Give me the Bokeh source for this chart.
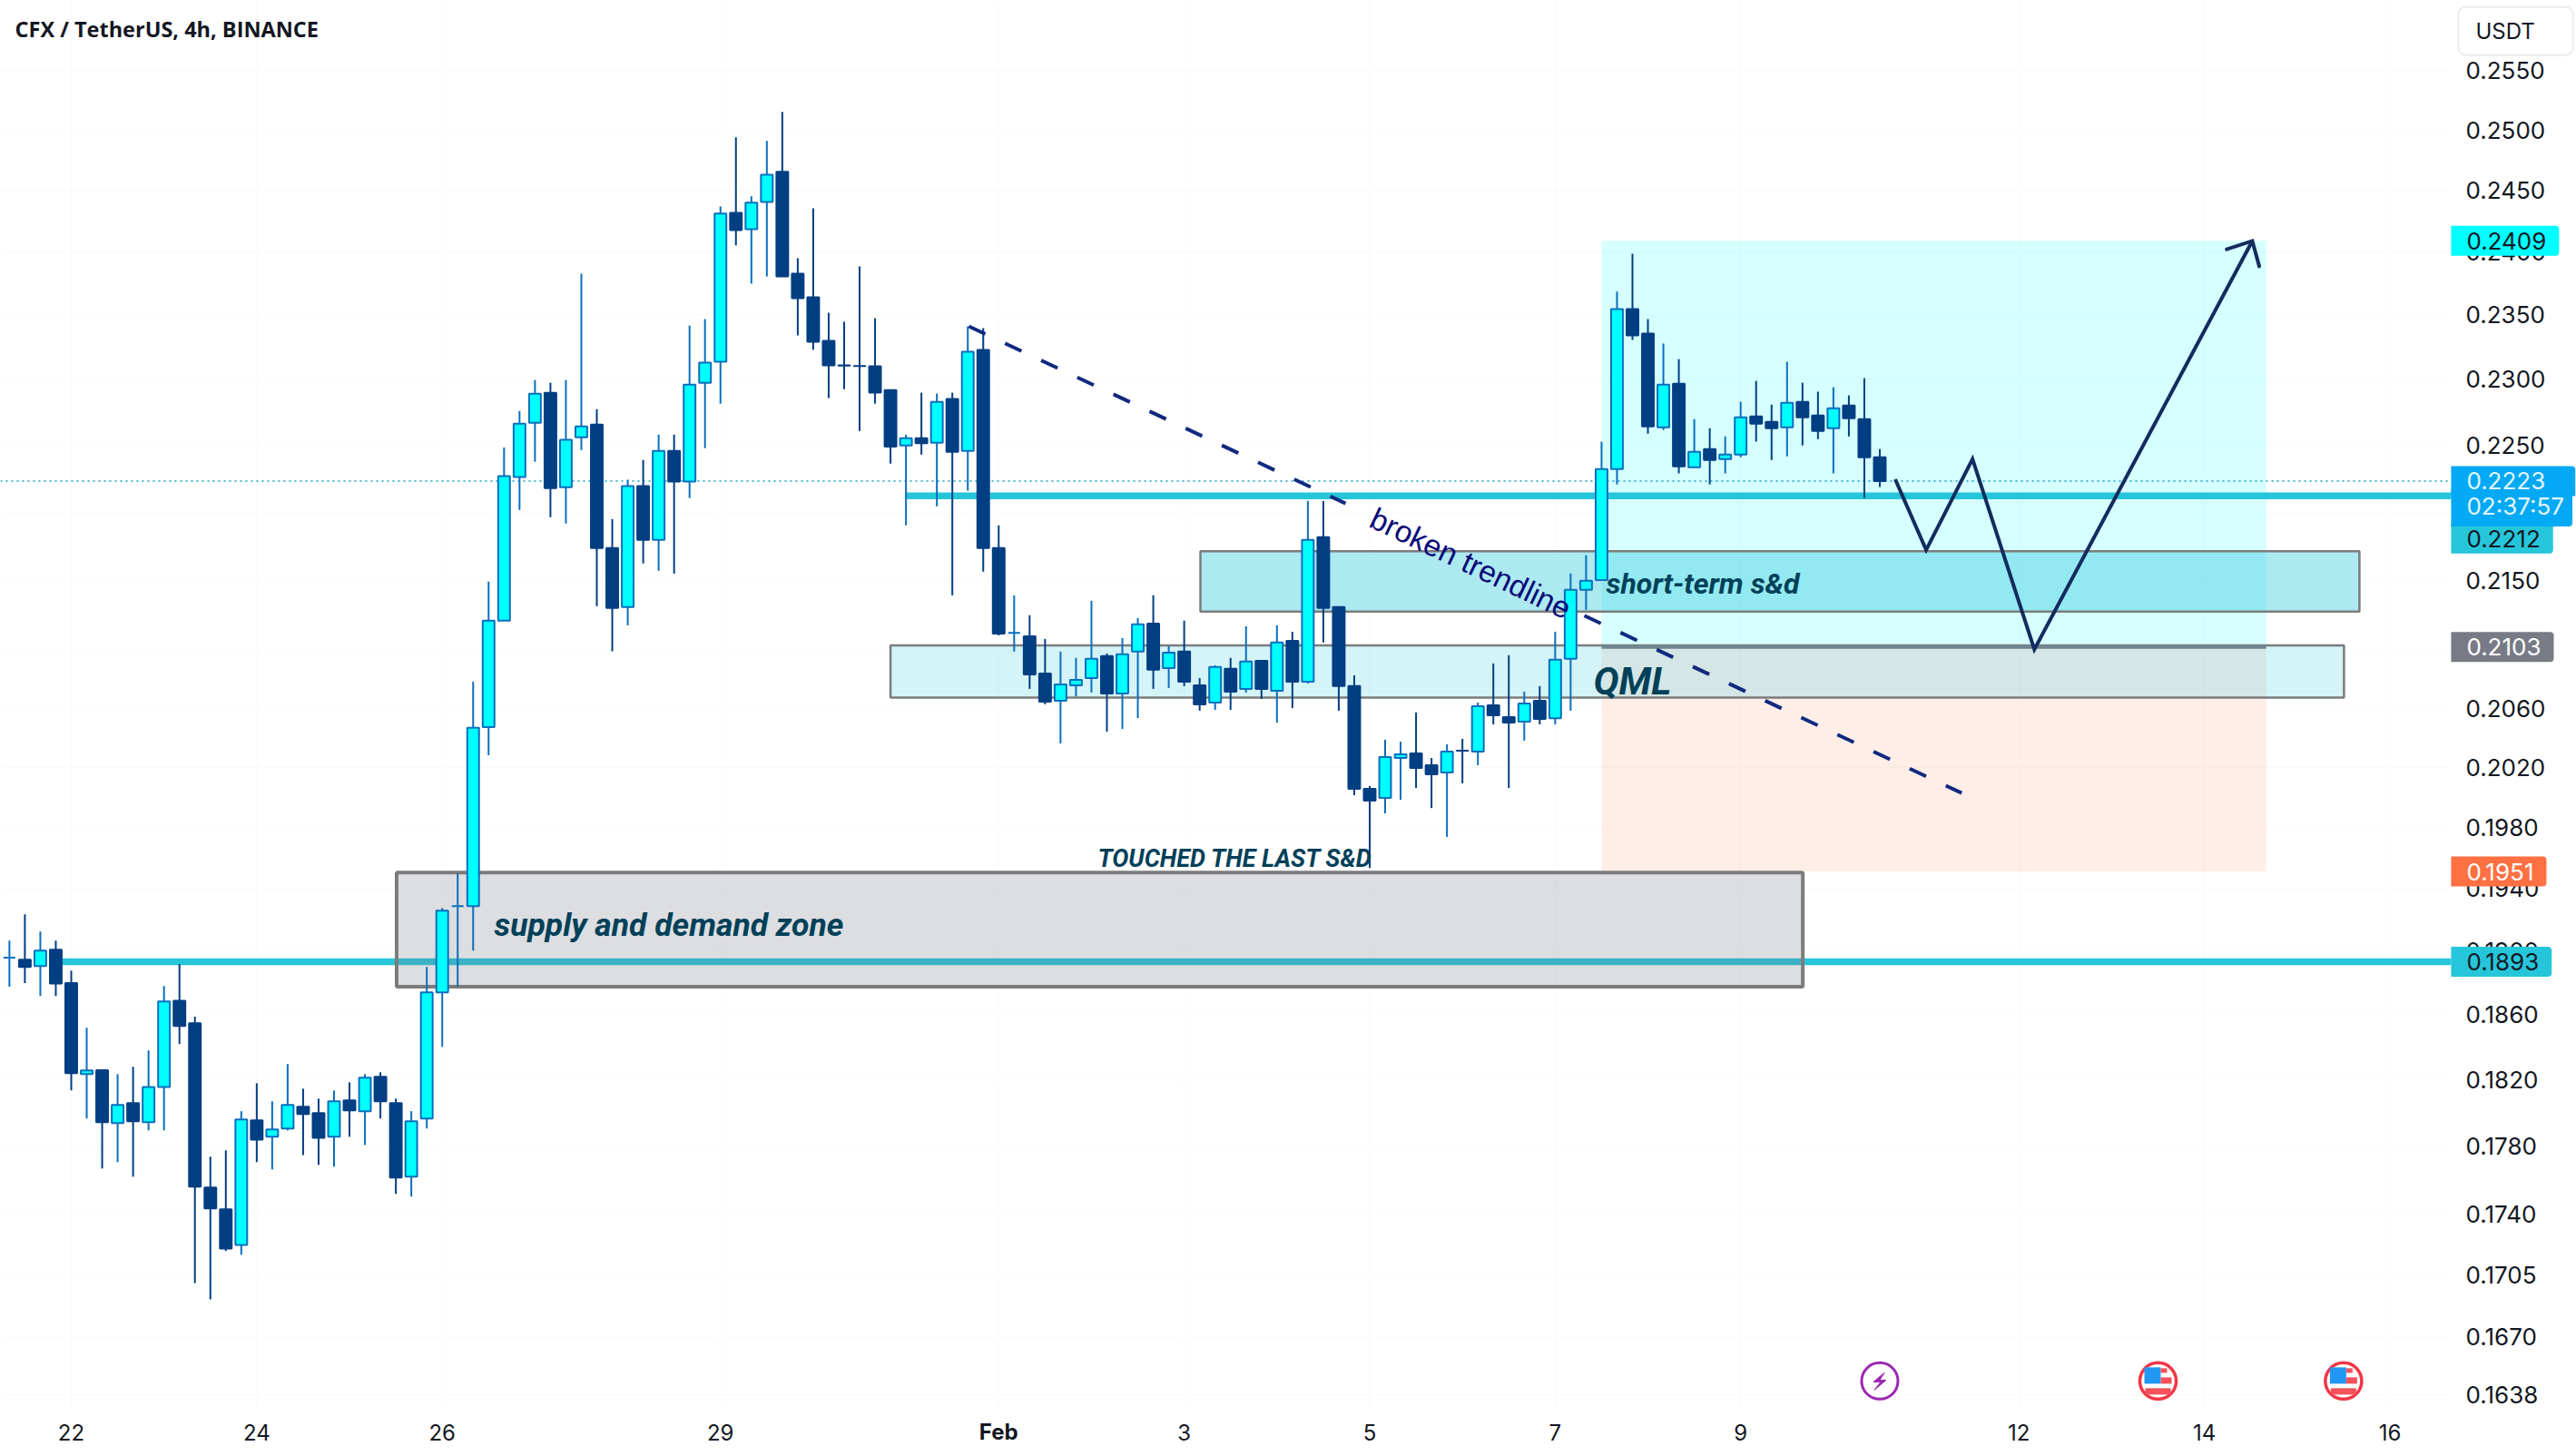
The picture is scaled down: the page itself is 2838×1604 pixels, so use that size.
from math import exp
from bokeh.plotting import figure
from bokeh.models import Range1d, FixedTicker, NumeralTickFormatter, Label, ColumnDataSource
from bokeh.core.properties import value
from bokeh.embed import file_html
from bokeh.resources import INLINE

# ---- price data: 4h candles, index 0 = 22 Jan 00:00 ----
FIRST_INDEX = -4
OPEN = [.18956,.18943,.18903,.19006,.18795,.18232,.18255,.17935,.18056,.17941,
        .18154,.18685,.18544,.17553,.17426,.17220,.17952,.17854,.17903,.18034,
        .17995,.17854,.18072,.18007,.18215,.18056,.17617,.17963,.18737,.19285,
        .19285,.20474,.21216,.22260,.22668,.22896,.22185,.22557,.22654,.21737,
        .21313,.22192,.21797,.22455,.22226,.22973,.23134,.24316,.24183,.24405,
        .24651,.23826,.23638,.23296,.23106,.23102,.23099,.22917,.22496,.22551,
        .22516,.22848,.22455,.23227,.21737,.21129,.21106,.20845,.20656,.20763,
        .20813,.20966,.20706,.20998,.21196,.20883,.20998,.20763,.20643,.20877,
        .20738,.20934,.20725,.21074,.20788,.21817,.21313,.20757,.20056,.19995,
        .20264,.20295,.20215,.20166,.20314,.20308,.20624,.20543,.20512,.20656,
        .20536,.20947,.21436,.21507,.22319,.23546,.23353,.22633,.22966,.22333,
        .22469,.22394,.22428,.22716,.22675,.22633,.22827,.22723,.22626,.22799,
        .22695,.22408]
HIGH = [.19064,.19232,.19122,.19064,.18874,.18516,.18255,.18232,.18277,.18377,
        .18777,.18915,.18585,.17735,.17773,.18007,.18176,.18067,.18293,.18143,
        .18083,.18132,.18182,.18232,.18243,.18083,.18007,.18897,.19273,.19497,
        .20788,.21495,.22481,.22757,.22994,.22973,.22994,.23826,.22771,.21949,
        .22240,.22387,.22578,.22578,.23417,.23467,.24368,.24937,.24450,.24907,
        .25150,.23950,.24353,.23517,.23446,.23884,.23474,.22917,.22578,.22897,
        .22890,.22897,.23410,.23396,.21903,.21397,.21255,.21087,.20998,.20954,
        .21358,.20985,.21093,.21235,.21397,.21036,.21216,.20813,.20902,.20954,
        .21177,.20934,.21183,.21138,.22083,.22083,.21319,.20832,.20075,.20388,
        .20375,.20575,.20264,.20357,.20394,.20643,.20915,.20973,.20719,.20757,
        .21138,.21553,.21685,.22524,.23684,.23986,.23467,.23276,.23155,.22695,
        .22626,.22564,.22827,.22987,.22806,.23134,.22973,.22904,.22939,.22876,
        .23008,.22469]
LOW = [.18772,.18795,.18714,.18714,.18132,.17963,.17666,.17703,.17617,.17892,
       .17892,.18416,.17001,.16909,.17184,.17163,.17703,.17660,.17892,.17745,
       .17687,.17676,.17854,.17805,.17963,.17516,.17500,.17903,.18399,.18772,
       .19000,.20283,.21216,.22016,.22374,.21963,.21917,.22462,.21319,.21000,
       .21183,.21626,.21573,.21553,.22104,.22476,.22813,.24052,.23747,.23804,
       .23804,.23339,.23227,.22855,.22924,.22605,.22813,.22360,.21903,.22428,
       .22043,.21397,.22158,.21567,.21112,.20998,.20738,.20631,.20363,.20687,
       .20712,.20443,.20462,.20536,.20738,.20744,.20757,.20587,.20593,.20593,
       .20712,.20668,.20505,.20605,.20775,.21062,.20587,.20013,.19532,.19892,
       .19983,.20062,.19928,.19736,.20093,.20215,.20493,.20062,.20382,.20493,
       .20493,.20587,.21293,.21507,.22205,.23304,.22585,.22612,.22287,.22333,
       .22205,.22287,.22408,.22525,.22387,.22414,.22496,.22544,.22287,.22564,
       .22104,.22185]
CLOSE = [.18956,.18897,.19000,.18792,.18238,.18254,.17941,.18045,.17946,.18154,
         .18680,.18528,.17558,.17431,.17199,.17957,.17837,.17897,.18045,.17990,
         .17848,.18067,.18012,.18210,.18067,.17612,.17946,.18737,.19255,.19285,
         .20470,.21216,.22267,.22661,.22889,.22178,.22538,.22640,.21737,.21306,
         .22192,.21797,.22455,.22226,.22959,.23127,.24309,.24176,.24398,.24628,
         .23804,.23631,.23289,.23106,.23105,.23101,.22897,.22488,.22551,.22513,
         .22827,.22448,.23213,.21737,.21125,.21129,.20839,.20649,.20769,.20801,
         .20947,.20706,.20979,.21190,.20871,.20991,.20788,.20631,.20890,.20719,
         .20928,.20738,.21062,.20788,.21797,.21306,.20757,.20056,.19977,.20270,
         .20289,.20197,.20154,.20308,.20313,.20618,.20555,.20505,.20637,.20530,
         .20941,.21436,.21501,.22319,.23546,.23339,.22640,.22959,.22340,.22448,
         .22387,.22428,.22709,.22661,.22626,.22820,.22709,.22605,.22778,.22702,
         .22408,.22230]

# ---- axes ----
PRICE_TICKS = [.2550,.2500,.2450,.2400,.2350,.2300,.2250,.2200,.2150,.2100,.2060,
               .2020,.1980,.1940,.1900,.1860,.1820,.1780,.1740,.1705,.1670,.1638]
TIME_TICKS = [0,12,24,42,60,72,84,96,108,126,138,150]
TIME_LABELS = ["22","24","26","29","","3","5","7","9","12","14","16"]
MONTH_LABEL = "Feb"
MONTH_TICK = 60
TITLE = "CFX / TetherUS, 4h, BINANCE"
COUNTDOWN = "02:37:57"

# ---- drawings ----
LONG_LEFT, LONG_RIGHT = 99, 142
TARGET, ENTRY, STOP = .2409, .2103, .1951
SR_HIGH, SR_LOW = .2212, .1893
SR_HIGH_START, SR_LOW_START = 54, -1
LAST_PRICE = .2223
ZONE_LEFT = [21.05, 73.05, 53.0]
ZONE_RIGHT = [112.02, 148.03, 147.03]
ZONE_TOP = [.19503, .21714, .21042]
ZONE_BOTTOM = [.18772, .21281, .20677]
TREND_A_X = [58.07, 82.44]
TREND_A_Y = [.23410, .22064]
TREND_B_X = [97.89, 122.3]
TREND_B_Y = [.21252, .20028]
PATH_X = [118.0, 120.0, 123.0, 127.0, 141.1]
PATH_Y = [.22243, .21724, .22394, .21014, .24088]
HEAD_X = [139.44, 141.1, 141.55]
HEAD_Y = [.24021, .24088, .23885]

INK = "#004058"
UP_FILL, UP_LINE = "#00ffff", "#0a6fbd"
DOWN = "#023e82"
TEAL = "#26c6da"
FONT = "Roboto"
AXIS_FONT = "Inter"

X0, X1 = -4.58, 162.07     # whole picture width; the price scale sits inside it
PANE_RIGHT = 153.96        # where the chart pane ends and the price scale starts
Y0, Y1 = .16044, .26105
PANE_BOTTOM = .16300

p = figure(width=2838, height=1604, frame_width=2838, frame_height=1604,
           x_range=Range1d(X0, X1), y_range=Range1d(Y0, Y1), y_axis_type="log",
           y_axis_location="right", output_backend="svg", toolbar_location=None,
           min_border=0, outline_line_color=None, background_fill_color="white", border_fill_color="white")

ax = p.yaxis[0]
ax.ticker = FixedTicker(ticks=PRICE_TICKS)
ax.formatter = NumeralTickFormatter(format="0.0000")
ax.axis_line_color = None
ax.major_tick_line_color = None
ax.minor_tick_line_color = None
ax.major_label_standoff = -128
ax.major_label_text_font = AXIS_FONT
ax.major_label_text_font_size = "26px"
ax.major_label_text_color = "#131722"

bx = p.xaxis[0]
bx.ticker = FixedTicker(ticks=TIME_TICKS)
bx.major_label_overrides = {t: l for t, l in zip(TIME_TICKS, TIME_LABELS)}
bx.axis_line_color = None
bx.major_tick_line_color = None
bx.minor_tick_line_color = None
bx.major_label_standoff = -42
bx.major_label_text_font = AXIS_FONT
bx.major_label_text_font_size = "24px"
bx.major_label_text_color = "#131722"
p.grid.visible = False

# very faint pane grid
GRID = "#fafafa"
p.segment(x0=TIME_TICKS, x1=TIME_TICKS, y0=[PANE_BOTTOM] * len(TIME_TICKS), y1=[Y1] * len(TIME_TICKS), line_color=GRID, line_width=1)
p.segment(x0=[X0] * len(PRICE_TICKS), x1=[PANE_RIGHT] * len(PRICE_TICKS), y0=PRICE_TICKS, y1=PRICE_TICKS, line_color=GRID, line_width=1)

# long position box
p.quad(left=[LONG_LEFT], right=[LONG_RIGHT], top=[TARGET], bottom=[ENTRY], fill_color="#00ffff", fill_alpha=.16, line_color=None)
p.quad(left=[LONG_LEFT], right=[LONG_RIGHT], top=[ENTRY], bottom=[STOP], fill_color="#ff7043", fill_alpha=.12, line_color=None)

# horizontal levels
p.line([X0, PANE_RIGHT], [LAST_PRICE, LAST_PRICE], line_color="#0f9fc4", line_width=1.5, line_dash="2 4")
p.line([SR_HIGH_START, PANE_RIGHT], [SR_HIGH, SR_HIGH], line_color=TEAL, line_width=7.5)
p.line([SR_LOW_START, PANE_RIGHT], [SR_LOW, SR_LOW], line_color=TEAL, line_width=7.5)

# zones
zone_src = ColumnDataSource(dict(left=ZONE_LEFT, right=ZONE_RIGHT, top=ZONE_TOP, bottom=ZONE_BOTTOM,
    fill=["#787b86", TEAL, TEAL], alpha=[.25, .38, .20], lw=[4, 2.5, 2.5]))
p.quad(left="left", right="right", top="top", bottom="bottom", source=zone_src, fill_color="fill",
       fill_alpha="alpha", line_color="#7c7c7c", line_width="lw")
p.line([LONG_LEFT, LONG_RIGHT], [ENTRY, ENTRY], line_color="#6f8791", line_width=4)

# candles
idx = list(range(FIRST_INDEX, FIRST_INDEX + len(OPEN)))
ups = [i for i in range(len(OPEN)) if CLOSE[i] >= OPEN[i]]
downs = [i for i in range(len(OPEN)) if CLOSE[i] < OPEN[i]]
for sel, fill, line in ((ups, UP_FILL, UP_LINE), (downs, DOWN, DOWN)):
    xs = [idx[i] for i in sel]
    p.segment(x0=xs, x1=xs, y0=[HIGH[i] for i in sel], y1=[LOW[i] for i in sel], line_color=line, line_width=2)
    p.vbar(x=xs, width=.76, top=[max(OPEN[i], CLOSE[i]) for i in sel], bottom=[min(OPEN[i], CLOSE[i]) for i in sel],
           fill_color=fill, line_color=line, line_width=2)

# trend line (broken where its text sits) and projected path
p.line(TREND_A_X, TREND_A_Y, line_color="#10297f", line_width=4, line_dash="20 24")
p.line(TREND_B_X, TREND_B_Y, line_color="#10297f", line_width=4, line_dash="20 24")
p.line(PATH_X, PATH_Y, line_color="#132b5e", line_width=4, line_join="miter")
p.line(HEAD_X, HEAD_Y, line_color="#132b5e", line_width=4, line_join="miter", line_cap="round")

# texts
def txt(x, y, s, size, style="bold italic", color=INK, align="left", angle=0, font=FONT):
    p.text([x], [y], text=[s], text_font=value(font), text_font_size=f"{size}px", text_font_style=style,
           text_color=color, text_align=align, text_baseline="middle", angle=angle, angle_units="deg")

txt(27.36, .19163, "supply and demand zone", 35.5)
txt(99.3, .21483, "short-term s&d", 32)
txt(98.47, .20788, "QML", 42)
txt(66.41, .19592, "TOUCHED THE LAST S&D", 27)
txt(90.53, .21626, "broken trendline", 33.5, style="normal", color="#0a0a78", align="center", angle=-25.4, font="Liberation Sans")

# event icons on the time line (offsets are screen pixels around the icon)
ICON_Y = .16454
PX_PER_IDX, PX_PER_LOG = 17.03, 3295.0
def ox(c, d): return c + d / PX_PER_IDX
def oy(d): return ICON_Y * exp(-d / PX_PER_LOG)
EVENT_X = 117
p.scatter([EVENT_X], [ICON_Y], marker="circle", size=40, fill_color="white", line_color="#9c27b0", line_width=3)
bolt_dx = [5, -7, 1, -6, 7, 0]
bolt_dy = [-9, 1, 1, 10, -1, -1]
p.patch([ox(EVENT_X, d) for d in bolt_dx], [oy(d) for d in bolt_dy], fill_color="#9c27b0", line_color="#9c27b0", line_width=1)
for c in (135, 147):
    p.scatter([c], [ICON_Y], marker="circle", size=40, fill_color="white", line_color="#f23645", line_width=3.5)
    for l, r, t, b, col in ((-15, 3, -15, 3, "#2196f3"), (3, 10, -14, -9, "#f4515a"), (3, 15, -4, 3, "#f4515a"), (-14, 14, 8, 15, "#f4515a")):
        p.quad(left=[ox(c, l)], right=[ox(c, r)], top=[oy(t)], bottom=[oy(b)], fill_color=col, line_color=None)

# price labels on the axis
def tag(price, s, bg, fg, offset=0, right_pad=14, top_pad=7, bottom_pad=7, radius=(0, 4, 4, 0)):
    p.add_layout(Label(x=PANE_RIGHT, y=price, y_offset=offset, text=s, text_font=AXIS_FONT, text_font_size="26px", text_color=fg,
                       text_align="left", text_baseline="middle", background_fill_color=bg,
                       padding=(17, right_pad, top_pad, bottom_pad), border_radius=radius))
tag(TARGET, "0.2409", "#00ffff", "#131722")
tag(SR_HIGH, "0.2212", TEAL, "#131722", offset=-47)
tag(LAST_PRICE, "0.2223", "#03a9f4", "#e3f6fe", right_pad=33, radius=(0, 4, 0, 0))
tag(LAST_PRICE, COUNTDOWN, "#03a9f4", "#e3f6fe", offset=-30, right_pad=9, top_pad=2, bottom_pad=7, radius=(0, 0, 4, 0))
tag(ENTRY, "0.2103", "#787b86", "white")
tag(STOP, "0.1951", "#ff7043", "white")
tag(SR_LOW, "0.1893", TEAL, "#131722")

# title, month tick, currency
p.add_layout(Label(x=-3.64, y=.25853, text=TITLE, text_font="Open Sans", text_font_style="bold", text_font_size="23.5px",
                   text_color="#131722", text_align="left", text_baseline="middle"))
p.add_layout(Label(x=MONTH_TICK, y=.16175, text=MONTH_LABEL, text_font=AXIS_FONT, text_font_style="bold", text_font_size="24px",
                   text_color="#131722", text_align="center", text_baseline="middle"))
p.add_layout(Label(x=154.43, y=.25839, text="USDT", text_font=AXIS_FONT, text_font_size="24px", text_color="#131722",
                   text_align="left", text_baseline="middle", background_fill_color="white", border_line_color="#ececec",
                   border_line_width=2, padding=(19, 42, 12, 12), border_radius=8))

open("out.html", "w").write(file_html(p, INLINE))
